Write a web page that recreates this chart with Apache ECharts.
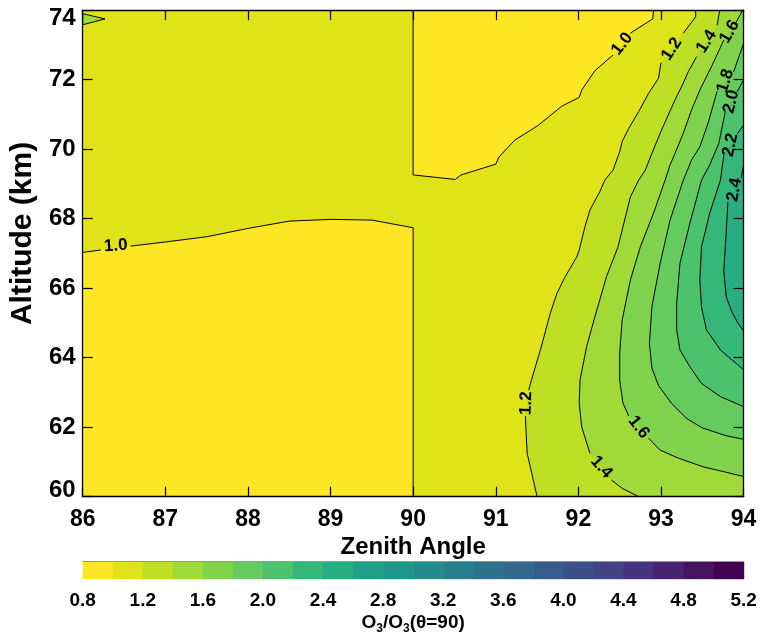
<!DOCTYPE html>
<html><head><meta charset="utf-8">
<script src="https://cdn.jsdelivr.net/npm/echarts@6/dist/echarts.min.js"></script>
<style>html,body{margin:0;padding:0;background:#fff}#c{width:762px;height:634px}</style>
</head><body><div id="c"></div>
<script>
// ---------------- data ----------------
const xMin = 86, xMax = 94, yMin = 60, yMax = 74;
const levels = [0.8,1.0,1.2,1.4,1.6,1.8,2.0,2.2,2.4,2.6,2.8,3.0,3.2,3.4,3.6,3.8,4.0,4.2,4.4,4.6,4.8,5.0,5.2];
const levelColors = ['#fde725','#dfe318','#bfdf25','#a0da39','#80d34d','#65cb5e','#4cc26c','#35b779','#27ad81','#20a187','#1f968b','#238a8d','#277f8e','#2c738e','#31688e','#375b8d','#3c4f8a','#424286','#463280','#482374','#471264','#440154'];

// contour lines [zenith angle, altitude]; each contour is a list of segments (gaps at labels)
const c10a = [[[86.0,67.03],[86.22,67.10]],
  [[86.58,67.21],[87.0,67.33],[87.5,67.48],[88.0,67.72],[88.5,67.93],[89.0,67.98],[89.5,67.96],[90.0,67.74],[90.0,60.0]]];
const c10b = [[[90.0,74.0],[90.0,69.26],[90.51,69.13],[90.58,69.26],[91.0,69.57],[91.04,69.78],[91.23,70.26],[91.51,70.68],[91.80,71.24],[92.01,71.49],[92.04,71.70],[92.20,72.26],[92.42,72.71]],
  [[92.63,73.34],[92.90,73.75],[92.91,74.0]]];
const c12 = [[[93.42,74.0],[93.42,73.81],[93.27,73.34]],
  [[93.00,72.49],[92.97,72.04],[92.85,71.61],[92.73,71.08],[92.61,70.60],[92.53,70.22],[92.50,69.93],[92.42,69.40],[92.32,69.11],[92.26,68.78],[92.14,68.25],[92.08,67.77],[92.01,67.10],[91.98,66.90],[91.84,66.33],[91.74,65.85],[91.66,65.28],[91.54,64.22],[91.42,63.26],[91.40,63.07]],
  [[91.36,62.32],[91.36,62.21],[91.38,61.25],[91.50,60.0]]];
const c12tri = [[[86.0,73.90],[86.27,73.75],[86.0,73.58]]];
const c14 = [[[93.71,74.0],[93.68,73.57]],
  [[93.43,72.66],[93.33,72.23],[93.27,71.90],[93.17,71.42],[93.07,70.89],[92.99,70.46],[92.89,69.88],[92.81,69.40],[92.73,69.11],[92.63,68.63],[92.59,68.25],[92.50,67.39],[92.48,67.19],[92.34,66.33],[92.20,65.18],[92.10,64.32],[92.02,63.36],[92.01,62.69],[92.04,62.01],[92.14,61.25]],
  [[92.40,60.48],[92.53,60.24],[92.73,60.0]]];
const c16 = [[[93.99,74.0],[93.90,73.62]],
  [[93.76,73.14],[93.61,72.37],[93.47,71.70],[93.37,71.13],[93.27,70.46],[93.17,69.88],[93.11,69.55],[93.05,69.11],[92.91,68.16],[92.75,67.19],[92.63,66.24],[92.53,65.08],[92.50,64.13],[92.50,63.36],[92.54,62.69],[92.61,62.32]],
  [[92.85,61.68],[92.99,61.34],[93.21,61.11],[93.51,60.86],[93.76,60.72],[94.0,60.58]]];
const c18 = [[[94.0,73.05],[93.88,72.23]],
  [[93.68,71.67],[93.57,70.75],[93.47,70.07],[93.37,69.69],[93.27,69.11],[93.11,67.96],[92.99,66.72],[92.89,65.47],[92.86,64.41],[92.89,63.70],[92.97,63.20],[93.13,62.68],[93.31,62.25],[93.50,61.98],[93.78,61.76],[94.0,61.65]]];
const c20 = [[[94.0,72.0],[93.92,71.65]],
  [[93.78,71.10],[93.70,70.17],[93.59,69.55],[93.49,69.11],[93.35,67.87],[93.23,66.72],[93.19,65.57],[93.19,64.80],[93.23,64.22],[93.35,63.74],[93.49,63.26],[93.72,62.88],[94.0,62.59]]];
const c22 = [[[94.0,70.70],[93.92,70.43]],
  [[93.76,69.83],[93.72,69.11],[93.59,68.16],[93.49,67.19],[93.47,66.24],[93.49,65.47],[93.55,64.80],[93.72,64.22],[94.0,63.65]]];
const c24 = [[[94.0,69.55],[93.97,69.17]],
  [[93.81,68.48],[93.78,67.25],[93.76,66.50],[93.79,65.75],[93.86,65.30],[93.93,65.0],[94.0,64.77]]];

// contour labels: text, zenith angle, altitude, angle of text (deg)
const contourLabels = [
  ['1.0',86.40,67.22,4], ['1.0',92.53,73.03,52], ['1.2',93.13,72.88,57], ['1.4',93.55,73.10,58],
  ['1.6',93.83,73.38,60], ['1.8',93.78,71.97,72], ['2.0',93.85,71.37,76], ['2.2',93.84,70.12,78],
  ['2.4',93.89,68.83,80], ['1.2',91.37,62.69,88], ['1.4',92.28,60.85,-48], ['1.6',92.73,62.0,-52]
];

// ---------------- build ----------------
const flat = c => c.reduce((a, s) => a.concat(s), []);
const fillRegions = [
  {pts: [[xMin,yMin],[xMax,yMin],[xMax,yMax],[xMin,yMax]], color: levelColors[1]},
  {pts: flat(c10a).concat([[xMin,yMin]]), color: levelColors[0]},
  {pts: flat(c10b), color: levelColors[0]},
  {pts: flat(c12).concat([[xMax,yMin],[xMax,yMax]]), color: levelColors[2]},
  {pts: flat(c12tri), color: levelColors[3]},
  {pts: flat(c14).concat([[xMax,yMin],[xMax,yMax]]), color: levelColors[3]},
  {pts: flat(c16), color: levelColors[4]},
  {pts: flat(c18), color: levelColors[5]},
  {pts: flat(c20), color: levelColors[6]},
  {pts: flat(c22), color: levelColors[7]},
  {pts: flat(c24), color: levelColors[8]}
];
const tri = flat(c12tri);
const lineSegs = [].concat(c10a, c10b, c12, [tri.concat([tri[0]])], c14, c16, c18, c20, c22, c24);

const FONT = '"Liberation Sans", Arial, Helvetica, sans-serif';
const chart = echarts.init(document.getElementById('c'), null, {renderer: 'canvas'});
const axisCommon = {
  type: 'value', z: 10,
  axisLine: {show: true, onZero: false, lineStyle: {color: '#000', width: 1.3}},
  axisTick: {show: true, inside: true, length: 10, lineStyle: {color: '#000', width: 1.2}},
  splitLine: {show: false}
};
chart.setOption({
  animation: false,
  backgroundColor: '#fff',
  grid: [
    {left: 82.7, right: 18.4, top: 10.2, bottom: 137.3, outerBoundsMode: 'none', containLabel: false},
    {left: 82.7, right: 18.4, top: 561.7, height: 17.5, outerBoundsMode: 'none', containLabel: false}
  ],
  xAxis: [
    Object.assign({}, axisCommon, {gridIndex: 0, position: 'bottom', min: xMin, max: xMax, interval: 1,
      axisLabel: {margin: 11, color: '#000', fontFamily: FONT, fontWeight: 'bold', fontSize: 23},
      name: 'Zenith Angle', nameLocation: 'middle', nameGap: 39,
      nameTextStyle: {color: '#000', fontFamily: FONT, fontWeight: 'bold', fontSize: 24}}),
    Object.assign({}, axisCommon, {gridIndex: 0, position: 'top', min: xMin, max: xMax, interval: 1,
      axisLabel: {show: false}}),
    {type: 'value', gridIndex: 1, position: 'bottom', min: 0.8, max: 5.2, interval: 0.4,
      axisLine: {show: false}, axisTick: {show: false}, splitLine: {show: false},
      axisLabel: {margin: 12, color: '#000', fontFamily: FONT, fontWeight: 'bold', fontSize: 19,
        formatter: v => v.toFixed(1)},
      name: 'O{s|3}/O{s|3}(θ=90)', nameLocation: 'middle', nameGap: 31,
      nameTextStyle: {color: '#000', fontFamily: FONT, fontWeight: 'bold', fontSize: 19, lineHeight: 24,
        rich: {s: {fontFamily: FONT, fontWeight: 'bold', fontSize: 12, verticalAlign: 'bottom', lineHeight: 24}}}},
    {type: 'value', gridIndex: 1, position: 'top', min: 0.8, max: 5.2, interval: 0.4, z: 10,
      axisLine: {show: true, lineStyle: {color: '#999', width: 1}}, axisTick: {show: false},
      axisLabel: {show: false}, splitLine: {show: false}}
  ],
  yAxis: [
    Object.assign({}, axisCommon, {gridIndex: 0, position: 'left', min: yMin, max: yMax, interval: 2,
      axisLabel: {margin: 7, color: '#000', fontFamily: FONT, fontWeight: 'bold', fontSize: 24,
        verticalAlignMinLabel: 'bottom', verticalAlignMaxLabel: 'top',
        formatter: v => v === yMin ? '{lo|' + v + '}' : (v === yMax ? '{hi|' + v + '}' : String(v)),
        rich: {lo: {fontFamily: FONT, fontWeight: 'bold', fontSize: 24, lineHeight: 12},
               hi: {fontFamily: FONT, fontWeight: 'bold', fontSize: 24, lineHeight: 16}}},
      name: 'Altitude (km)', nameLocation: 'middle', nameGap: 32,
      nameTextStyle: {color: '#000', fontFamily: FONT, fontWeight: 'bold', fontSize: 30, padding: [0, 0, 0, 40]}}),
    Object.assign({}, axisCommon, {gridIndex: 0, position: 'right', min: yMin, max: yMax, interval: 2,
      axisLabel: {show: false}}),
    {type: 'value', gridIndex: 1, min: 0, max: 1, show: false}
  ],
  series: [
    {type: 'custom', xAxisIndex: 0, yAxisIndex: 0, clip: true, z: 1, silent: true,
      data: fillRegions.map((r, i) => i),
      renderItem: (params, api) => {
        const r = fillRegions[params.dataIndex];
        return {type: 'polygon', shape: {points: r.pts.map(p => api.coord(p))},
          style: {fill: r.color}};
      }},
    {type: 'custom', xAxisIndex: 0, yAxisIndex: 0, clip: true, z: 2, silent: true,
      data: lineSegs.map((s, i) => i),
      renderItem: (params, api) => {
        const s = lineSegs[params.dataIndex];
        return {type: 'polyline', shape: {points: s.map(p => api.coord(p))},
          style: {stroke: '#000', lineWidth: 1, fill: 'none'}};
      }},
    {type: 'custom', xAxisIndex: 0, yAxisIndex: 0, clip: false, z: 3, silent: true,
      data: contourLabels.map((l, i) => i),
      renderItem: (params, api) => {
        const L = contourLabels[params.dataIndex];
        const p = api.coord([L[1], L[2]]);
        return {type: 'text', x: p[0], y: p[1], rotation: L[3] * Math.PI / 180,
          style: {text: L[0], fill: '#000', font: 'bold 17px ' + FONT, align: 'center', verticalAlign: 'middle'}};
      }},
    {type: 'custom', xAxisIndex: 2, yAxisIndex: 2, clip: false, z: 1, silent: true,
      data: levelColors.map((c, i) => i),
      renderItem: (params, api) => {
        const i = params.dataIndex;
        const p0 = api.coord([levels[i], 0]);
        const p1 = api.coord([levels[i + 1], 1]);
        return {type: 'rect', shape: {x: p0[0], y: p1[1], width: p1[0] - p0[0] + 0.6, height: p0[1] - p1[1]},
          style: {fill: levelColors[i]}};
      }}
  ]
});
</script>
</body></html>
